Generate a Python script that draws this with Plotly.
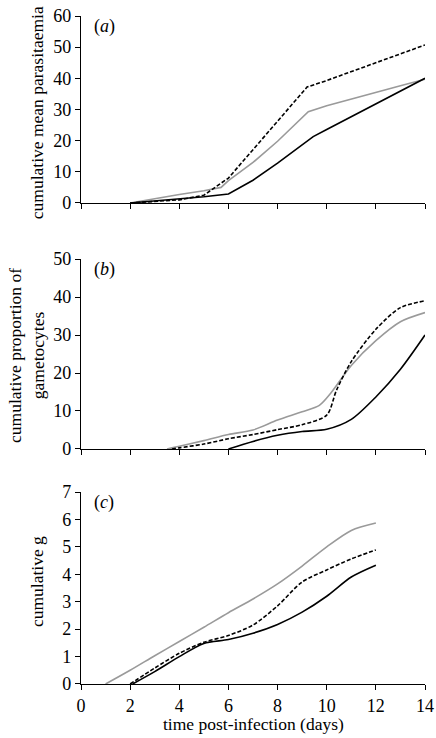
import plotly.graph_objects as go

# ---- Panel (a): cumulative mean parasitaemia ----
a_black_x = [2, 3, 4, 5, 6, 7, 8, 9, 9.45, 10, 11, 12, 13, 14]
a_black_y = [0, 0.6, 1.3, 2.0, 2.9, 7.3, 12.8, 18.6, 21.3, 23.6, 27.7, 31.8, 35.9, 40.0]
a_grey_x = [2, 3, 4, 5, 5.7, 6, 7, 8, 9.25, 10, 11, 12, 13, 14]
a_grey_y = [0, 1.4, 2.7, 3.9, 5.0, 7.2, 13.0, 19.8, 29.3, 31.2, 33.4, 35.5, 37.6, 39.7]
a_dash_x = [2, 3, 4, 5, 5.7, 6, 7, 8, 9.2, 10, 11, 12, 13, 14]
a_dash_y = [0, 0.4, 1.0, 2.5, 6.5, 8.0, 17.1, 26.2, 37.2, 39.3, 42.2, 45.0, 47.8, 50.7]

# ---- Panel (b): cumulative proportion of gametocytes ----
b_black_x = [6, 7, 8, 9, 10, 11, 12, 13, 14]
b_black_y = [0, 2.0, 3.6, 4.6, 5.2, 7.8, 13.7, 21.0, 30.0]
b_grey_x = [3.5, 4, 5, 6, 7, 8, 9, 9.7, 10.2, 11, 12, 13, 14]
b_grey_y = [0, 0.7, 2.2, 3.8, 5.0, 7.6, 9.8, 11.5, 15.0, 22.0, 28.5, 33.5, 35.9]
b_dash_x = [3.7, 4, 5, 6, 7, 8, 9, 10, 10.4, 11, 12, 13, 14]
b_dash_y = [0, 0.3, 1.3, 2.7, 3.8, 5.1, 6.4, 8.9, 15.5, 23.0, 31.5, 37.2, 39.0]

# ---- Panel (c): cumulative g ----
c_grey_x = [1, 2, 3, 4, 5, 6, 7, 8, 9, 10, 11, 12]
c_grey_y = [0, 0.5, 1.03, 1.55, 2.07, 2.6, 3.1, 3.65, 4.3, 5.0, 5.6, 5.87]
c_black_x = [2.1, 3, 4, 5, 6, 7, 8, 9, 10, 11, 12]
c_black_y = [0, 0.45, 1.0, 1.48, 1.62, 1.85, 2.17, 2.62, 3.2, 3.9, 4.33]
c_dash_x = [2.0, 3, 4, 5, 6, 7, 8, 9, 10, 11, 12]
c_dash_y = [0, 0.58, 1.12, 1.52, 1.77, 2.15, 2.85, 3.72, 4.16, 4.56, 4.89]

x_ticks = [0, 2, 4, 6, 8, 10, 12, 14]

BLACK = "#000000"
GREY = "#9a9a9a"
FONT = "Liberation Serif"

fig = go.Figure()

def add(x, y, color, dash, xa, ya, shape):
    fig.add_trace(go.Scatter(
        x=x, y=y, mode="lines", xaxis=xa, yaxis=ya, showlegend=False,
        line=dict(color=color, width=1.6, dash=dash, shape=shape,
                  smoothing=0.8 if shape == "spline" else None),
        hoverinfo="skip"))

# panel a (top) -> x/y
add(a_grey_x, a_grey_y, GREY, "solid", "x", "y", "linear")
add(a_black_x, a_black_y, BLACK, "solid", "x", "y", "linear")
add(a_dash_x, a_dash_y, BLACK, "4px,2px", "x", "y", "linear")
# panel b -> x2/y2
add(b_grey_x, b_grey_y, GREY, "solid", "x2", "y2", "spline")
add(b_black_x, b_black_y, BLACK, "solid", "x2", "y2", "spline")
add(b_dash_x, b_dash_y, BLACK, "4px,2px", "x2", "y2", "spline")
# panel c -> x3/y3
add(c_grey_x, c_grey_y, GREY, "solid", "x3", "y3", "spline")
add(c_black_x, c_black_y, BLACK, "solid", "x3", "y3", "spline")
add(c_dash_x, c_dash_y, BLACK, "4px,2px", "x3", "y3", "spline")

TICKFONT = dict(family=FONT, size=18, color="black")
xcommon = dict(range=[0, 14], tickvals=x_ticks, showgrid=False, zeroline=False,
               showline=True, linecolor="black", linewidth=1.2, automargin=False,
               ticks="outside", ticklen=5, tickcolor="black", tickwidth=1.2,
               tickfont=TICKFONT, ticklabeloverflow="allow")
ycommon = dict(showgrid=False, zeroline=False, showline=True, linecolor="black",
               linewidth=1.2, ticks="outside", ticklen=5, tickcolor="black",
               tickwidth=1.2, tickfont=TICKFONT, automargin=False,
               ticklabeloverflow="allow")

fig.update_layout(
    width=436, height=738,
    margin=dict(l=81, r=11, t=16, b=54),
    paper_bgcolor="white", plot_bgcolor="white",
    font=dict(family=FONT, color="black"),
    xaxis=dict(**xcommon, anchor="y", showticklabels=False),
    yaxis=dict(**ycommon, domain=[0.7201, 1.0], range=[0, 60], dtick=10, anchor="x"),
    xaxis2=dict(**xcommon, anchor="y2", showticklabels=False),
    yaxis2=dict(**ycommon, domain=[0.3518, 0.6362], range=[0, 50], dtick=10, anchor="x2"),
    xaxis3=dict(**xcommon, anchor="y3", showticklabels=True),
    yaxis3=dict(**ycommon, domain=[0.0, 0.2874], range=[0, 7], dtick=1, anchor="x3"),
)

TITLEFONT = dict(family=FONT, size=17.5, color="black")
# x-axis title
fig.add_annotation(text="time post-infection (days)", xref="paper", yref="paper",
                   x=0.5, y=-0.0605, xanchor="center", yanchor="middle",
                   showarrow=False, font=TITLEFONT)
# y-axis titles (as annotations for precise placement)
fig.add_annotation(text="cumulative mean parasitaemia", xref="paper", yref="paper",
                   x=-0.128, y=0.856, xanchor="center", yanchor="middle",
                   textangle=-90, showarrow=False, font=TITLEFONT)
fig.add_annotation(text="cumulative proportion of<br>gametocytes", xref="paper", yref="paper",
                   x=-0.16, y=0.4925, xanchor="center", yanchor="middle",
                   textangle=-90, showarrow=False, font=TITLEFONT)
fig.add_annotation(text="cumulative g", xref="paper", yref="paper",
                   x=-0.128, y=0.154, xanchor="center", yanchor="middle",
                   textangle=-90, showarrow=False, font=TITLEFONT)

# panel labels
for lab, yy in [("a", 1.0), ("b", 0.6362), ("c", 0.2874)]:
    fig.add_annotation(text="(<i>%s</i>)" % lab, xref="paper", yref="paper",
                       x=0.033, y=yy + 0.003, xanchor="left", yanchor="top",
                       showarrow=False, font=dict(family=FONT, size=18, color="black"))

# remove the browser's default 8px body margin so the figure fills the window
fig.write_html("out.html", config={"displayModeBar": False},
               post_script="document.body.style.margin='0';document.body.style.overflow='hidden';")
